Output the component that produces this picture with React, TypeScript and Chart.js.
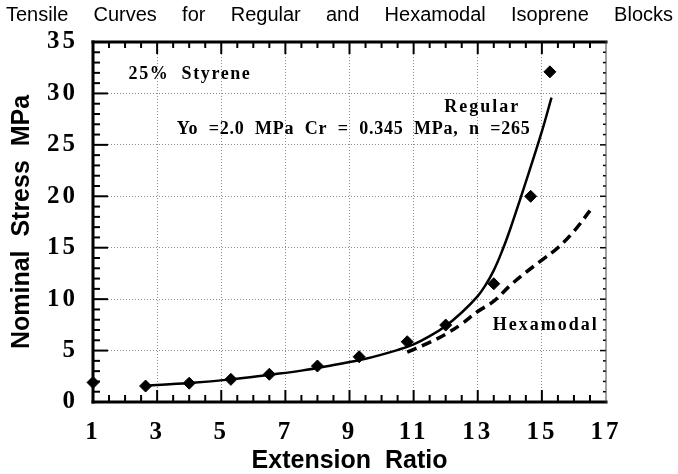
import React, { useEffect, useRef } from 'react';
import { Chart, registerables } from 'chart.js';

Chart.register(...registerables);

// ---- data ----
const titleWords = ['Tensile', 'Curves', 'for', 'Regular', 'and', 'Hexamodal', 'Isoprene', 'Blocks'];
const xTickValues = [1, 3, 5, 7, 9, 11, 13, 15, 17];
const yTickValues = [0, 5, 10, 15, 20, 25, 30, 35];

const measuredX = [1, 2.64, 4.0, 5.3, 6.5, 8.0, 9.3, 10.8, 12.0, 13.5, 14.65, 15.25];
const measuredY = [1.9, 1.55, 1.83, 2.2, 2.7, 3.5, 4.4, 5.86, 7.48, 11.5, 20.0, 32.1];

const regularX = [2.64, 4.0, 5.3, 6.5, 7.5, 8.5, 9.5, 10.5, 11.0, 11.5, 12.0, 12.5, 13.0, 13.25, 13.5, 13.75, 14.0, 14.5, 15.0, 15.3];
const regularY = [1.6, 1.85, 2.2, 2.65, 3.05, 3.6, 4.2, 5.05, 5.6, 6.4, 7.4, 8.7, 10.3, 11.4, 12.8, 14.6, 16.7, 21.4, 26.3, 29.6];

const hexaX = [10.8, 11.5, 12.0, 12.5, 13.0, 13.5, 14.0, 14.5, 15.0, 15.5, 16.0, 16.5];
const hexaY = [4.85, 5.8, 6.6, 7.6, 8.8, 9.8, 11.3, 12.6, 13.8, 15.0, 16.6, 18.6];

const annotations = [
  { text: '25%  Styrene', x: 2.11, y: 31.9, align: 'left', spacing: 1.6 },
  { text: 'Regular', x: 13.14, y: 28.6, align: 'center', spacing: 2 },
  { text: 'Yo  =2.0  MPa  Cr  =  0.345  MPa,  n  =265', x: 3.61, y: 26.5, align: 'left', spacing: 0.75 },
  { text: 'Hexamodal', x: 13.47, y: 7.5, align: 'left', spacing: 2 },
];

const serifBold = { family: "'Liberation Serif', 'Times New Roman', serif", size: 25, weight: 'bold' as const };
const sansBold = { family: "'Liberation Sans', Arial, sans-serif", size: 25, weight: 'bold' as const, lineHeight: 1 };

const toPts = (xs: number[], ys: number[]) => xs.map((x, i) => ({ x, y: ys[i] }));

const framePlugin = {
  id: 'frame',
  beforeDatasetsDraw(chart: any) {
    const { ctx, chartArea } = chart;
    const { left, right, top, bottom } = chartArea;
    const xs = chart.scales.x;
    const ys = chart.scales.y;
    ctx.save();
    ctx.strokeStyle = '#000';
    const line = (x1: number, y1: number, x2: number, y2: number) => {
      ctx.beginPath();
      ctx.moveTo(x1, y1);
      ctx.lineTo(x2, y2);
      ctx.stroke();
    };
    ctx.lineWidth = 2;
    for (let i = 1; i < 32; i++) {
      const v = 1 + i * 0.5;
      const px = xs.getPixelForValue(v);
      const major = i % 4 === 0;
      line(px, bottom, px, bottom - (major ? 12 : 7));
      line(px, top, px, top + (major ? 12 : 6));
    }
    for (let v = 1; v < 35; v++) {
      const py = ys.getPixelForValue(v);
      const major = v % 5 === 0;
      ctx.lineWidth = 2;
      line(left, py, left + (major ? 15 : 7), py);
      ctx.lineWidth = 1.5;
      line(right, py, right - (major ? 6 : 3), py);
    }
    ctx.lineWidth = 3;
    ctx.lineCap = 'square';
    line(left, top, left, bottom);
    line(left, bottom, right, bottom);
    line(left, top, right, top);
    ctx.lineWidth = 1;
    ctx.strokeStyle = '#444';
    line(right, top, right, bottom);
    ctx.restore();
  },
  afterDatasetsDraw(chart: any) {
    // tick labels (drawn in a later layer) get the spaced-out look of the original
    (chart.ctx as any).letterSpacing = '3px';
  },
  afterDraw(chart: any) {
    const { ctx } = chart;
    const xs = chart.scales.x;
    const ys = chart.scales.y;
    ctx.save();
    ctx.fillStyle = '#000';
    ctx.textBaseline = 'middle';
    ctx.font = "bold 18px 'Liberation Serif', 'Times New Roman', serif";
    for (const a of annotations) {
      (ctx as any).letterSpacing = a.spacing + 'px';
      ctx.textAlign = a.align as CanvasTextAlign;
      ctx.fillText(a.text, xs.getPixelForValue(a.x), ys.getPixelForValue(a.y));
    }
    (ctx as any).letterSpacing = '0px';
    ctx.font = "20px 'Liberation Sans', Arial, sans-serif";
    ctx.textAlign = 'left';
    const startX = 6;
    const endX = 673;
    const widths = titleWords.map((w) => ctx.measureText(w).width);
    const total = widths.reduce((s, w) => s + w, 0);
    const gap = (endX - startX - total) / (titleWords.length - 1);
    let cx = startX;
    titleWords.forEach((w, i) => {
      ctx.fillText(w, cx, 15);
      cx += widths[i] + gap;
    });
    ctx.restore();
    (ctx as any).letterSpacing = '0px';
  },
};

export default function App() {
  const ref = useRef<HTMLCanvasElement | null>(null);

  useEffect(() => {
    if (!ref.current) return;
    const gridColor = (edgeA: number, edgeB: number) => (c: any) =>
      c.tick && (c.tick.value === edgeA || c.tick.value === edgeB) ? 'rgba(0,0,0,0)' : '#8c8c8c';
    const chart = new Chart(ref.current, {
      type: 'scatter',
      data: {
        datasets: [
          {
            label: 'Regular',
            data: toPts(regularX, regularY),
            showLine: true,
            borderColor: '#000',
            borderWidth: 2.5,
            pointRadius: 0,
            tension: 0.4,
            fill: false,
          } as any,
          {
            label: 'Hexamodal',
            data: toPts(hexaX, hexaY),
            showLine: true,
            borderColor: '#000',
            borderWidth: 3.5,
            borderDash: [10, 6],
            pointRadius: 0,
            tension: 0.4,
            fill: false,
          } as any,
          {
            label: 'Measured',
            data: toPts(measuredX, measuredY),
            showLine: false,
            pointStyle: 'rectRot',
            pointRadius: 6,
            backgroundColor: '#000',
            borderColor: '#000',
            borderWidth: 1,
            clip: false,
          } as any,
        ],
      },
      options: {
        animation: false,
        responsive: false,
        layout: { padding: { top: 42, right: 72, left: 0, bottom: 0 } },
        plugins: {
          legend: { display: false },
          tooltip: { enabled: false },
          title: { display: false },
        },
        scales: {
          x: {
            type: 'linear',
            min: 1,
            max: 17,
            afterBuildTicks: (s: any) => {
              s.ticks = xTickValues.map((v) => ({ value: v }));
            },
            afterFit: (s: any) => {
              s.height = 72;
            },
            grid: { color: gridColor(1, 17), lineWidth: 1, drawTicks: false },
            border: { display: false, dash: [1, 2] },
            ticks: { font: serifBold, color: '#000', padding: 16, maxRotation: 0, autoSkip: false, z: 1 },
            title: {
              display: true,
              text: 'Extension  Ratio',
              font: sansBold,
              color: '#000',
              padding: { top: 0, bottom: 0 },
            },
          },
          y: {
            type: 'linear',
            min: 0,
            max: 35,
            afterBuildTicks: (s: any) => {
              s.ticks = yTickValues.map((v) => ({ value: v }));
            },
            afterFit: (s: any) => {
              s.width = 93;
            },
            grid: { color: gridColor(0, 35), lineWidth: 1, drawTicks: false },
            border: { display: false, dash: [1, 2] },
            ticks: { font: serifBold, color: '#000', padding: 15, autoSkip: false, z: 1 },
            title: {
              display: true,
              text: 'Nominal  Stress  MPa',
              font: sansBold,
              color: '#000',
              padding: { top: 10, bottom: 0 },
            },
          },
        },
      } as any,
      plugins: [framePlugin],
    });
    return () => chart.destroy();
  }, []);

  return (
    <div style={{ position: 'absolute', left: 0, top: 0, width: 678, height: 474, background: '#fff' }}>
      <canvas ref={ref} width={678} height={474} style={{ display: 'block', width: 678, height: 474 }} />
    </div>
  );
}
